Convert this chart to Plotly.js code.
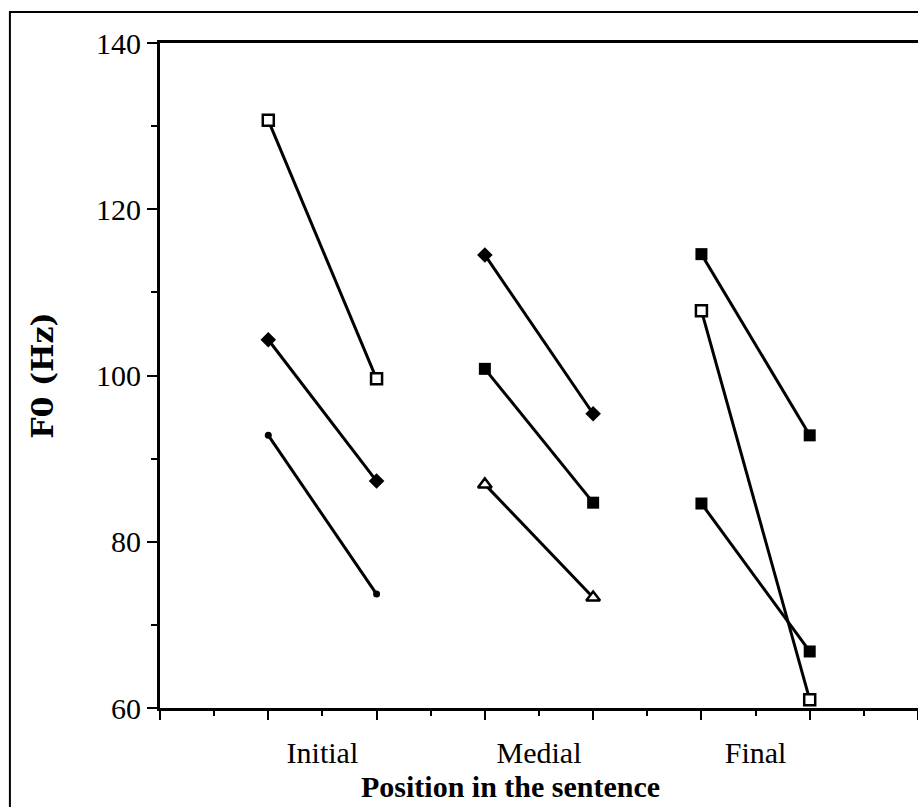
<!DOCTYPE html>
<html>
<head>
<meta charset="utf-8">
<script src="https://cdn.plot.ly/plotly-3.0.1.min.js"></script>
<style>
  html, body { margin: 0; padding: 0; background: #ffffff; }
  #chart { width: 918px; height: 807px; }
</style>
</head>
<body>
<div id="chart"></div>
<script>
// ---- data ----
const positions = ['Initial', 'Medial', 'Final'];
const initialSlots = [1, 2];
const medialSlots = [3, 4];
const finalSlots = [5, 6];
const labelSlots = [1.5, 3.5, 5.5];

const initialOpenSquare = [130.7, 99.6];
const initialDiamond = [104.3, 87.3];
const initialDot = [92.8, 73.7];

const medialDiamond = [114.5, 95.4];
const medialSquare = [100.8, 84.7];
const medialTriangle = [86.9, 73.3];

const finalSquareHigh = [114.6, 92.8];
const finalOpenSquare = [107.8, 61.0];
const finalSquareLow = [84.6, 66.8];

// ---- styles ----
const lineStyle = { color: '#000000', width: 3 };
const openSquare = { symbol: 'square', size: 11, color: '#ffffff', line: { color: '#000000', width: 2.5 } };
const filledSquare = { symbol: 'square', size: 12, color: '#000000', line: { color: '#000000', width: 0 } };
const diamond = { symbol: 'diamond', size: 12, color: '#000000', line: { color: '#000000', width: 0 } };
const dot = { symbol: 'circle', size: 7, color: '#000000', line: { color: '#000000', width: 0 } };
const openTriangle = { symbol: 'triangle-up', size: 12, color: '#ffffff', line: { color: '#000000', width: 2.5 } };

function pair(xs, ys, marker) {
  return { type: 'scatter', mode: 'lines+markers', x: xs, y: ys, line: lineStyle, marker: marker,
           cliponaxis: false, showlegend: false, hoverinfo: 'x+y' };
}

const traces = [
  pair(initialSlots, initialOpenSquare, openSquare),
  pair(initialSlots, initialDiamond, diamond),
  pair(initialSlots, initialDot, dot),
  pair(medialSlots, medialDiamond, diamond),
  pair(medialSlots, medialSquare, filledSquare),
  pair(medialSlots, medialTriangle, openTriangle),
  pair(finalSlots, finalSquareHigh, filledSquare),
  pair(finalSlots, finalOpenSquare, openSquare),
  pair(finalSlots, finalSquareLow, filledSquare),
  // invisible trace carrying the category labels axis
  { type: 'scatter', mode: 'markers', x: labelSlots, y: [60, 60, 60], xaxis: 'x2', yaxis: 'y',
    marker: { opacity: 0 }, showlegend: false, hoverinfo: 'skip' }
];

const serif = 'Liberation Serif, Times New Roman, serif';

const layout = {
  width: 918, height: 807,
  margin: { l: 160, r: 0, t: 43, b: 99 },
  paper_bgcolor: '#ffffff', plot_bgcolor: '#ffffff',
  showlegend: false,
  font: { family: serif, color: '#000000', size: 29 },
  xaxis: {
    range: [0, 7], showgrid: false, zeroline: false,
    showline: true, linecolor: '#000000', linewidth: 3, mirror: true,
    tickmode: 'linear', tick0: 0, dtick: 1,
    ticks: 'outside', ticklen: 9, tickwidth: 2, tickcolor: '#000000',
    showticklabels: false,
    minor: { tickmode: 'linear', tick0: 0.5, dtick: 1, ticks: 'outside', ticklen: 5, tickwidth: 2, tickcolor: '#000000' },
    fixedrange: true
  },
  xaxis2: {
    overlaying: 'x', anchor: 'y', side: 'bottom',
    range: [0, 7], showgrid: false, zeroline: false, showline: false,
    tickmode: 'array', tickvals: labelSlots, ticktext: positions,
    ticks: 'outside', ticklen: 18, tickcolor: 'rgba(0,0,0,0)',
    tickfont: { family: serif, size: 30, color: '#000000' },
    fixedrange: true
  },
  yaxis: {
    range: [60, 140], showgrid: false, zeroline: false,
    showline: true, linecolor: '#000000', linewidth: 3,
    tickmode: 'linear', tick0: 60, dtick: 20,
    ticks: 'outside', ticklen: 10, tickwidth: 2, tickcolor: '#000000',
    tickfont: { family: serif, size: 30, color: '#000000' },
    minor: { tickmode: 'linear', tick0: 70, dtick: 20, ticks: 'outside', ticklen: 6, tickwidth: 2, tickcolor: '#000000' },
    title: { text: '<b>F0 (Hz)</b>', font: { family: 'DejaVu Serif, serif', size: 30, color: '#000000' }, standoff: 34 },
    fixedrange: true
  },
  annotations: [
    { text: '<b>Position in the sentence</b>', xref: 'paper', yref: 'paper',
      x: 0.462, y: -0.146, xanchor: 'center', yanchor: 'bottom', showarrow: false,
      font: { family: serif, size: 30, color: '#000000' } }
  ],
  shapes: [
    { type: 'path', xref: 'paper', yref: 'paper', layer: 'above',
      path: 'M -0.198,-0.2 L -0.198,1.0466 L 1.05,1.0466',
      line: { color: '#000000', width: 2 } }
  ]
};

Plotly.newPlot('chart', traces, layout, { displayModeBar: false, staticPlot: true });
</script>
</body>
</html>
